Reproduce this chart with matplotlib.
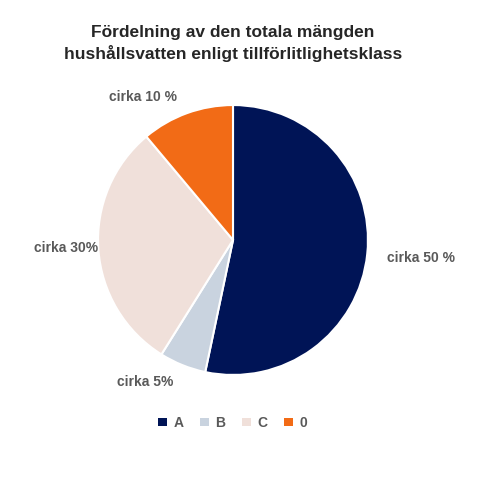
import matplotlib.pyplot as plt
from matplotlib.patches import Patch

categories = ["A", "B", "C", "0"]
values = [53.3, 5.6, 30.0, 11.1]
labels = ["cirka 50 %", "cirka 5%", "cirka 30%", "cirka 10 %"]
colors = ["#001456", "#c9d3df", "#f0e0da", "#f26b16"]

plt.rcParams['font.family'] = ['Liberation Sans', 'DejaVu Sans']
fig = plt.figure(figsize=(4.82, 4.9), dpi=100)
w = 0.70
h = w * 4.82 / 4.9
ax = fig.add_axes([233 / 482 - w / 2, 1 - 240 / 490 - h / 2, w, h])
wedges, _ = ax.pie(values, colors=colors, startangle=90, counterclock=False,
                   wedgeprops=dict(edgecolor="white", linewidth=1.5))
ax.set_aspect("equal")

# label positions in data coords (radius 1)
label_pos = [(1.39, -0.13), (-0.65, -1.05), (-1.24, -0.06), (-0.67, 1.06)]
for (x, y), t in zip(label_pos, labels):
    ax.text(x, y, t, ha="center", va="center", fontsize=10, fontweight="bold", color="#595959")

fig.text(0.483, 0.912, "Fördelning av den totala mängden\nhushållsvatten enligt tillförlitlighetsklass",
         ha="center", va="center", fontsize=12.5, fontweight="bold", color="#262626", linespacing=1.35)

handles = [Patch(facecolor=c, label=k) for c, k in zip(colors, categories)]
fig.legend(handles=handles, loc="center", bbox_to_anchor=(0.483, 0.137), ncol=4, frameon=False,
           handlelength=0.6, handleheight=0.6, columnspacing=1.2, handletextpad=0.5,
           prop=dict(size=10, weight="bold"), labelcolor="#595959")

fig.savefig("out.png", dpi=100)
